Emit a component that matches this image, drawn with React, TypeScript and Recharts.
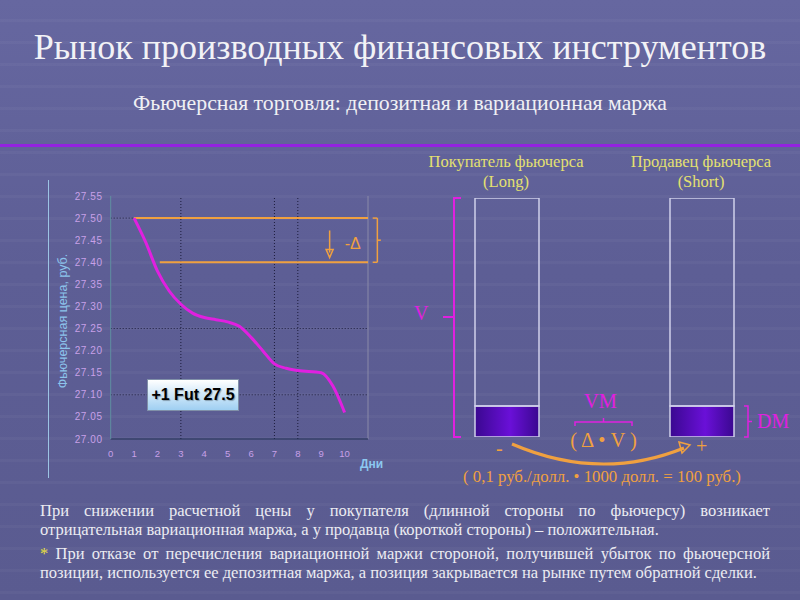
import React from "react";
import {
  LineChart,
  Line,
  XAxis,
  YAxis,
  ReferenceLine,
  ReferenceDot,
  BarChart,
  Bar,
} from "recharts";

// price path of the future over the days
const days = [1, 1.5, 2, 2.5, 3, 3.5, 4, 4.5, 5, 5.5, 6, 6.5, 7, 7.5, 8, 9, 9.5, 10];
const prices = [
  27.5, 27.445, 27.38, 27.335, 27.305, 27.285, 27.275, 27.27, 27.265, 27.255, 27.23,
  27.2, 27.17, 27.16, 27.155, 27.15, 27.12, 27.06,
];
const xTicks = [0, 1, 2, 3, 4, 5, 6, 7, 8, 9, 10];
const yTicks = [27.0, 27.05, 27.1, 27.15, 27.2, 27.25, 27.3, 27.35, 27.4, 27.45, 27.5, 27.55];
const gridDays = [3, 7, 8];
const gridPrices = [27.25, 27.1];

// margin boxes: long / short
const sides = ["Long", "Short"];
const depositMargin = [13, 13];
const contractValue = [100, 100];

const lineData = days.map((d, i) => ({ day: d, price: prices[i] }));
const barData = sides.map((s, i) => ({
  side: s,
  dm: depositMargin[i],
  rest: contractValue[i] - depositMargin[i],
}));

const ORANGE = "#f0a040";
const MAGENTA = "#e020e0";
const GRID = "#1c1c3c";
const serif = '"Liberation Serif", "DejaVu Serif", serif';
const sans = '"Liberation Sans", Arial, sans-serif';

function abs(left: number, top: number, extra: React.CSSProperties = {}): React.CSSProperties {
  return { position: "absolute", left, top, ...extra };
}

const bodyLine: React.CSSProperties = { width: 730, height: 19, whiteSpace: "nowrap" };
const justLine: React.CSSProperties = { ...bodyLine, whiteSpace: "normal", textAlign: "justify", textAlignLast: "justify" };

export default function App() {
  return (
    <div
      style={{
        position: "absolute",
        left: 0,
        top: 0,
        width: 800,
        height: 600,
        overflow: "hidden",
        background:
          "repeating-linear-gradient(180deg, rgba(255,255,255,0) 0px, rgba(255,255,255,0) 19px, rgba(255,255,255,0.03) 19px, rgba(255,255,255,0.03) 22px), linear-gradient(180deg, #6667a0 0%, #5d5e95 45%, #5a5b90 100%)",
        fontFamily: serif,
      }}
    >
      <div style={abs(0, 26, { width: 800, textAlign: "center", fontSize: 36, color: "#f2f2f6" })}>
        Рынок производных финансовых инструментов
      </div>
      <div style={abs(0, 91, { width: 800, textAlign: "center", fontSize: 21.8, color: "#f0f0f4" })}>
        Фьючерсная торговля: депозитная и вариационная маржа
      </div>
      <div style={abs(0, 144, { width: 800, height: 3, background: "#9322e0" })} />

      {/* chart frame */}
      <div style={abs(48, 180, { width: 1, height: 298, background: "#9cc4e4" })} />
      <div
        style={abs(63, 321, {
          transform: "translate(-50%, -50%) rotate(-90deg)",
          whiteSpace: "nowrap",
          fontFamily: sans,
          fontSize: 12.5,
          color: "#8cc4ec",
        })}
      >
        Фьючерсная цена, руб.
      </div>

      <div style={abs(40, 180)}>
        <LineChart width={360} height={300} data={lineData} margin={{ top: 16, right: 32, bottom: 11, left: 0 }}>
          <XAxis
            dataKey="day"
            type="number"
            domain={[0, 11]}
            ticks={xTicks}
            tickSize={0}
            tickMargin={11}
            axisLine={{ stroke: "#1e2e50", strokeWidth: 1 }}
            tick={{ fill: "#c8a0e8", fontSize: 9.5, fontFamily: sans }}
            height={30}
          />
          <YAxis
            type="number"
            domain={[27.0, 27.55]}
            ticks={yTicks}
            tickFormatter={(v: number) => v.toFixed(2)}
            width={70.7}
            tickSize={0}
            tickMargin={8}
            axisLine={{ stroke: "#5f8fa0", strokeWidth: 1 }}
            tick={{ fill: "#c8a0e8", fontSize: 10, fontFamily: sans, letterSpacing: 0.6 }}
            interval={0}
          />
          <ReferenceLine x={11} stroke="#8a8aa8" strokeWidth={1} />
          {gridDays.map((d) => (
            <ReferenceLine key={"d" + d} x={d} stroke={GRID} strokeDasharray="1 2" />
          ))}
          {gridPrices.map((p) => (
            <ReferenceLine key={"p" + p} y={p} stroke={GRID} strokeDasharray="1 2" />
          ))}
          <ReferenceLine
            segment={[{ x: 0, y: 27.5 }, { x: 1, y: 27.5 }]}
            stroke={GRID}
            strokeDasharray="1 2"
          />
          {/* -delta annotation */}
          <ReferenceLine segment={[{ x: 1, y: 27.5 }, { x: 11, y: 27.5 }]} stroke={ORANGE} strokeWidth={2} />
          <ReferenceLine segment={[{ x: 2.1, y: 27.4 }, { x: 11, y: 27.4 }]} stroke={ORANGE} strokeWidth={2} />
          <ReferenceLine
            segment={[{ x: 11.2, y: 27.5 }, { x: 11.4, y: 27.5 }]}
            stroke={ORANGE}
            strokeWidth={1.5}
            ifOverflow="visible"
          />
          <ReferenceLine
            segment={[{ x: 11.4, y: 27.5 }, { x: 11.4, y: 27.4 }]}
            stroke={ORANGE}
            strokeWidth={1.5}
            ifOverflow="visible"
          />
          <ReferenceLine
            segment={[{ x: 11.2, y: 27.4 }, { x: 11.4, y: 27.4 }]}
            stroke={ORANGE}
            strokeWidth={1.5}
            ifOverflow="visible"
          />
          <ReferenceLine
            segment={[{ x: 11.4, y: 27.45 }, { x: 11.55, y: 27.45 }]}
            stroke={ORANGE}
            strokeWidth={1.5}
            ifOverflow="visible"
          />
          <ReferenceLine
            segment={[{ x: 9.36, y: 27.472 }, { x: 9.36, y: 27.422 }]}
            stroke={ORANGE}
            strokeWidth={1.5}
          />
          <ReferenceDot
            x={9.36}
            y={27.413}
            shape={(p: any) => (
              <path
                d={`M${p.cx - 3.5},${p.cy - 7} L${p.cx + 3.5},${p.cy - 7} L${p.cx},${p.cy + 1} Z`}
                fill="none"
                stroke={ORANGE}
                strokeWidth={1.5}
              />
            )}
          />
          <ReferenceDot
            x={10.35}
            y={27.44}
            shape={(p: any) => (
              <text
                x={p.cx}
                y={p.cy}
                textAnchor="middle"
                dominantBaseline="middle"
                fill={ORANGE}
                fontSize={16}
                fontFamily={sans}
              >
                -Δ
              </text>
            )}
          />
          <Line
            type="monotone"
            dataKey="price"
            stroke={MAGENTA}
            strokeWidth={3}
            dot={false}
            isAnimationActive={false}
          />
        </LineChart>
      </div>

      <div
        style={abs(360, 457, { fontFamily: sans, fontSize: 12, fontWeight: "bold", color: "#8cc8f0" })}
      >
        Дни
      </div>

      <div
        style={abs(147, 379, {
          width: 92,
          height: 32,
          boxSizing: "border-box",
          border: "1px solid #8090a8",
          background: "linear-gradient(180deg, #ffffff 0%, #d8ecfa 40%, #9fcff2 100%)",
          fontFamily: sans,
          fontWeight: "bold",
          fontSize: 16,
          color: "#000",
          textAlign: "center",
          lineHeight: "30px",
          whiteSpace: "nowrap",
          textShadow: "1px 1px 1px rgba(0,0,0,0.3)",
        })}
      >
        +1 Fut 27.5
      </div>

      {/* right panel headings */}
      <div style={abs(396, 152, { width: 220, textAlign: "center", fontSize: 16.5, color: "#e4e070", lineHeight: "20px" })}>
        Покупатель фьючерса
        <br />
        (Long)
      </div>
      <div style={abs(591, 152, { width: 220, textAlign: "center", fontSize: 16.5, color: "#e4e070", lineHeight: "20px" })}>
        Продавец фьючерса
        <br />
        (Short)
      </div>

      <div style={abs(408.5, 198)}>
        <svg width={0} height={0} style={{ position: "absolute" }}>
          <defs>
            <linearGradient id="dmFill" x1="0" y1="0" x2="1" y2="0">
              <stop offset="0%" stopColor="#3a0890" />
              <stop offset="55%" stopColor="#6a10d8" />
              <stop offset="100%" stopColor="#3a0890" />
            </linearGradient>
          </defs>
        </svg>
        <BarChart width={390} height={239} data={barData} margin={{ top: 0, right: 0, bottom: 0, left: 0 }} barSize={64}>
          <XAxis dataKey="side" hide />
          <YAxis hide domain={[0, 100]} />
          <Bar dataKey="dm" stackId="a" fill="url(#dmFill)" stroke="#d0d0ea" strokeWidth={1.5} isAnimationActive={false} />
          <Bar dataKey="rest" stackId="a" fill="none" stroke="#d0d0ea" strokeWidth={1.5} isAnimationActive={false} />
        </BarChart>
      </div>

      {/* annotations */}
      <svg width={800} height={600} style={abs(0, 0, { pointerEvents: "none" })}>
        <path d="M461,198 L454,198 L454,437 L461,437 M454,317 L443,317" fill="none" stroke={MAGENTA} strokeWidth={2} />
        <path d="M575,426 L575,422 L632,422 L632,426 M603.5,422 L603.5,418" fill="none" stroke={MAGENTA} strokeWidth={1.5} />
        <path d="M744,406 L748,406 L748,437 L744,437 M748,421.5 L752,421.5" fill="none" stroke={MAGENTA} strokeWidth={1.5} />
        <path d="M512,444 Q600,482 684,448" fill="none" stroke={ORANGE} strokeWidth={3} />
        <path d="M679,442 L690,445 L682,453 Z" fill="none" stroke={ORANGE} strokeWidth={1.5} />
      </svg>

      <div style={abs(414, 302, { fontSize: 20, color: MAGENTA })}>V</div>
      <div style={abs(584, 390, { fontSize: 20.5, color: MAGENTA })}>VM</div>
      <div style={abs(757, 410, { fontSize: 20, color: MAGENTA })}>DM</div>
      <div style={abs(603.5, 429, { fontSize: 20.5, color: ORANGE, transform: "translateX(-50%)", whiteSpace: "nowrap" })}>
        ( Δ • V )
      </div>
      <div style={abs(496, 437, { fontSize: 20, color: ORANGE })}>-</div>
      <div style={abs(696, 435, { fontSize: 20, color: ORANGE })}>+</div>
      <div style={abs(602, 467, { fontSize: 16.8, color: ORANGE, transform: "translateX(-50%)", whiteSpace: "nowrap" })}>
        ( 0,1 руб./долл. • 1000 долл. = 100 руб.)
      </div>

      <div style={abs(40, 501, { fontSize: 16.5, color: "#ececf2", lineHeight: "19px" })}>
        <div style={justLine}>
          При снижении расчетной цены у покупателя (длинной стороны по фьючерсу) возникает
        </div>
        <div style={bodyLine}>отрицательная вариационная маржа, а у продавца (короткой стороны) – положительная.</div>
        <div style={{ ...justLine, marginTop: 5 }}>
          <span style={{ color: "#e8e040" }}>*</span> При отказе от перечисления вариационной маржи стороной,
          получившей убыток по фьючерсной
        </div>
        <div style={bodyLine}>
          позиции, используется ее депозитная маржа, а позиция закрывается на рынке путем обратной сделки.
        </div>
      </div>
    </div>
  );
}
